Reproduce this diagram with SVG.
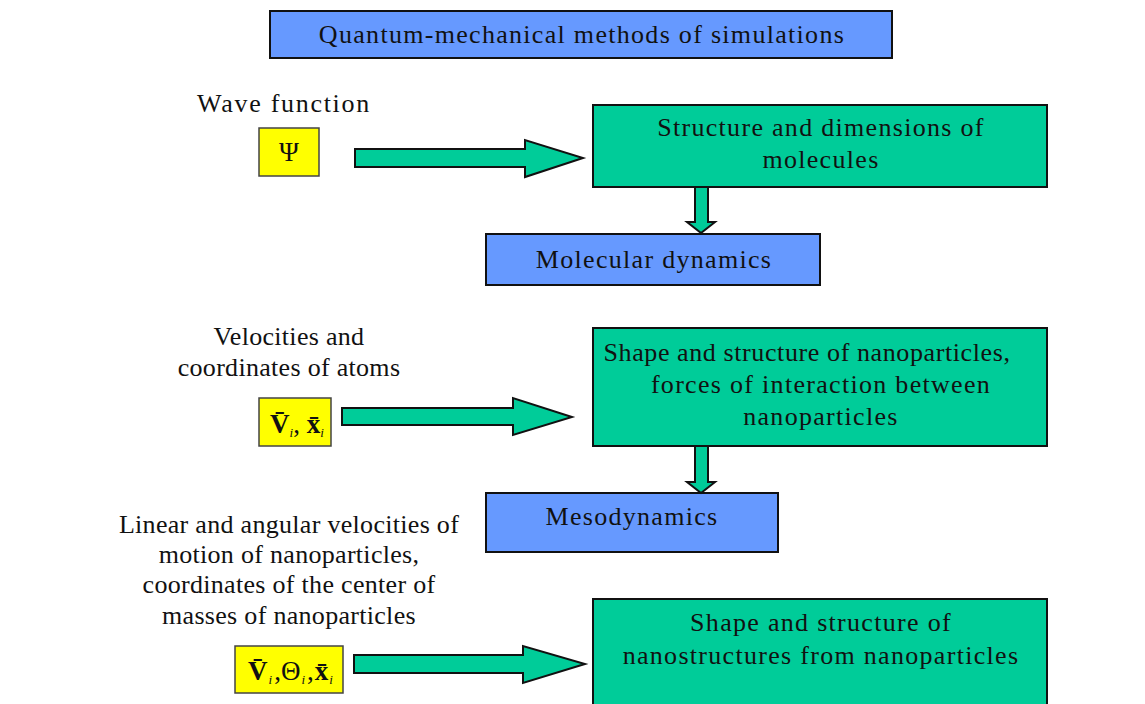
<svg xmlns="http://www.w3.org/2000/svg" width="1145" height="704" viewBox="0 0 1145 704">
<style>
.t{font-family:"Liberation Serif","Times New Roman",serif;font-size:26px;fill:#111;letter-spacing:1.3px;}
.n{letter-spacing:0.3px;}
.w{letter-spacing:1.7px;}
.c{text-anchor:middle;}
.blue{fill:#6699ff;stroke:#111;stroke-width:2;}
.green{fill:#00cc99;stroke:#111;stroke-width:2;}
.yellow{fill:#ffff00;stroke:#444;stroke-width:1.5;}
.arr{fill:#00cc99;stroke:#111;stroke-width:2;stroke-linejoin:miter;}
.m{font-family:"Liberation Serif","Times New Roman",serif;font-size:27px;fill:#111;}
.b{font-weight:bold;}
.s{font-style:italic;font-size:13px;}
</style>
<rect width="1145" height="704" fill="#fff"/>
<g id="title">
<rect class="blue" x="270" y="11" width="622" height="47"/>
<text class="t c" x="582" y="43">Quantum-mechanical methods of simulations</text>
</g>
<g id="wave-label"><text class="t c w" x="284" y="112">Wave function</text></g>
<g id="psi">
<rect class="yellow" x="259" y="128" width="60" height="48"/>
<text class="m c" x="289" y="161">Ψ</text>
</g>
<g id="structure-molecules">
<rect class="green" x="593" y="105" width="454" height="82"/>
<text class="t c" x="821" y="136">Structure and dimensions of</text>
<text class="t c" x="821" y="168">molecules</text>
</g>
<g id="molecular-dynamics">
<rect class="blue" x="486" y="234" width="334" height="51"/>
<text class="t c" x="654" y="268">Molecular dynamics</text>
</g>
<g id="velocities-label">
<text class="t c n" x="289" y="345">Velocities and</text>
<text class="t c n" x="289" y="376">coordinates of atoms</text>
</g>
<g id="vx">
<rect class="yellow" x="259" y="398" width="72" height="48"/>
<text class="m" x="270" y="433"><tspan class="b">V̄</tspan><tspan class="s" dy="4">i</tspan><tspan dy="-4">, </tspan><tspan class="b">x̄</tspan><tspan class="s" dy="4">i</tspan></text>
</g>
<g id="shape-nanoparticles">
<rect class="green" x="593" y="328" width="454" height="118"/>
<text class="t c" x="807" y="361" style="letter-spacing:0.6px">Shape and structure of nanoparticles,</text>
<text class="t c" x="821" y="393">forces of interaction between</text>
<text class="t c" x="821" y="425">nanoparticles</text>
</g>
<g id="mesodynamics">
<rect class="blue" x="486" y="493" width="292" height="59"/>
<text class="t c" x="632" y="525">Mesodynamics</text>
</g>
<g id="linear-label">
<text class="t c n" x="289" y="533">Linear and angular velocities of</text>
<text class="t c n" x="289" y="563">motion of nanoparticles,</text>
<text class="t c n" x="289" y="593">coordinates of the center of</text>
<text class="t c n" x="289" y="624">masses of nanoparticles</text>
</g>
<g id="vtx">
<rect class="yellow" x="235" y="646" width="108" height="47"/>
<text class="m" x="248" y="680"><tspan class="b">V̄</tspan><tspan class="s" dx="1" dy="4">i</tspan><tspan dx="2" dy="-4">,Θ</tspan><tspan class="s" dx="1" dy="4">i</tspan><tspan dx="2" dy="-4">,</tspan><tspan class="b" dx="1">x̄</tspan><tspan class="s" dx="1" dy="4">i</tspan></text>
</g>
<g id="shape-nanostructures">
<rect class="green" x="593" y="599" width="454" height="110"/>
<text class="t c" x="821" y="631">Shape and structure of</text>
<text class="t c" x="821" y="664">nanostructures from nanoparticles</text>
</g>
<g id="connectors">
<polygon class="arr" points="355,149 525,149 525,140 583,158 525,177 525,167 355,167"/>
<polygon class="arr" points="695,187 708,187 708,222 715,222 701,233 687,222 695,222"/>
<polygon class="arr" points="342,408 513,408 513,398 572,417 513,435 513,425 342,425"/>
<polygon class="arr" points="695,446 708,446 708,482 715,482 701,493 687,482 695,482"/>
<polygon class="arr" points="354,655 523,655 523,646 585,664 523,683 523,673 354,673"/>
</g>
</svg>
